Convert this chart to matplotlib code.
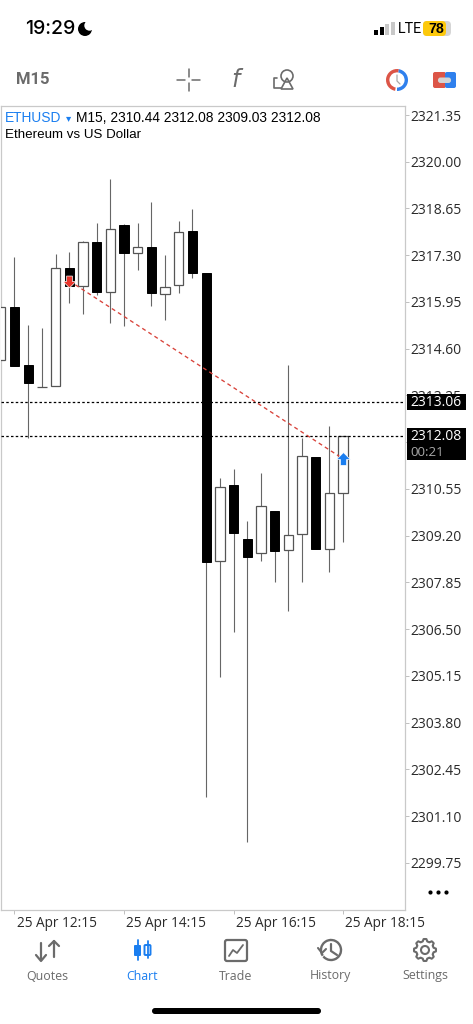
import matplotlib
matplotlib.use('Agg')
import matplotlib.pyplot as plt
import matplotlib.patches as mpatches
import numpy as np

# candles, oldest first
opens = [2314.28, 2315.81, 2314.13, 2313.50, 2313.52, 2316.93, 2316.41, 2317.68, 2316.24, 2318.17, 2317.37, 2317.54, 2316.18,
         2316.44, 2318.00, 2316.79, 2308.47, 2310.67, 2309.11, 2308.70, 2309.92, 2308.79, 2309.25, 2311.47, 2308.82, 2310.44]
highs = [2315.81, 2317.25, 2315.29, 2315.20, 2317.34, 2317.39, 2317.71, 2318.23, 2319.50, 2318.20, 2318.23, 2318.84, 2317.31,
         2318.29, 2318.64, 2316.79, 2310.87, 2311.13, 2309.63, 2311.01, 2309.92, 2314.13, 2312.02, 2311.47, 2312.37, 2312.08]
lows = [2314.28, 2314.10, 2312.02, 2313.50, 2313.52, 2315.92, 2315.60, 2316.15, 2315.34, 2315.26, 2316.87, 2315.83, 2315.43,
        2316.21, 2316.64, 2301.66, 2305.12, 2306.42, 2300.36, 2308.47, 2307.87, 2307.03, 2307.87, 2308.82, 2308.15, 2309.03]
closes = [2315.81, 2314.10, 2313.61, 2313.50, 2316.93, 2316.41, 2317.68, 2316.24, 2318.06, 2317.37, 2317.54, 2316.21, 2316.38,
          2317.97, 2316.79, 2308.44, 2310.61, 2309.28, 2308.59, 2310.06, 2308.76, 2309.22, 2311.50, 2308.82, 2310.43, 2312.08]

price_ticks = [2321.35, 2320.00, 2318.65, 2317.30, 2315.95, 2314.60, 2313.25, 2311.90, 2310.55, 2309.20,
               2307.85, 2306.50, 2305.15, 2303.80, 2302.45, 2301.10, 2299.75]
hidden_tick = 2311.90  # sits behind the last price box
time_idx = [1, 9, 17, 25]
time_labels = ['25 Apr 12:15', '25 Apr 14:15', '25 Apr 16:15', '25 Apr 18:15']

bid_price = 2313.06
last_price = 2312.08
trade_from = (5, 2316.56)
trade_to = (25, 2311.42)

W, H = 473, 1024
FONT = 'Liberation Sans'
GREY = '#6b6b6b'
BLUE = '#1a7ef0'
plt.rcParams['font.family'] = [FONT, 'DejaVu Sans']

fig = plt.figure(figsize=(W / 100, H / 100), dpi=100, facecolor='white')

# chart
ax = fig.add_axes([0.5 / W, (H - 910) / H, 404.5 / W, 804 / H])
ax.set_xlim(-0.022, 29.52)
ax.set_ylim(2298.39, 2321.61)

for s in ax.spines.values():
    s.set_color('#c9c9c9')
    s.set_linewidth(0.9)

x = np.arange(len(opens))
o, h, l, c = map(np.array, (opens, highs, lows, closes))
ax.vlines(x, l, h, color='#666666', lw=0.8, zorder=2)
up = c >= o
bw = 0.68
ax.bar(x[up], (c - o)[up], bottom=o[up], width=bw, facecolor='white', edgecolor='#555555', lw=0.9, zorder=3)
ax.bar(x[~up], (c - o)[~up], bottom=o[~up], width=bw, facecolor='black', edgecolor='black', lw=0.7, zorder=3)

for p in (bid_price, last_price):
    ax.axhline(p, color='black', lw=0.9, dashes=(2, 1.8), zorder=4)

ax.plot([trade_from[0], trade_to[0]], [trade_from[1], trade_to[1]], color='#d8423a', lw=0.95, dashes=(3, 2.5), zorder=5)
arrow_up = [(-1, 0), (0, 1), (1, 0), (.45, 0), (.45, -.85), (-.45, -.85), (-.45, 0), (-1, 0)]
arrow_dn = [(a, -b) for a, b in arrow_up]
ax.scatter([trade_from[0]], [trade_from[1]], marker=arrow_dn, s=85, color='#e8352b', edgecolor='white', lw=0.5, zorder=6)
ax.scatter([trade_to[0]], [trade_to[1]], marker=arrow_up, s=100, color=BLUE, edgecolor='white', lw=0.5, zorder=6)

ax.yaxis.tick_right()
ax.set_yticks(price_ticks)
ax.set_yticklabels(['' if p == hidden_tick else '%.2f' % p for p in price_ticks],
                   fontsize=10, color='#2a2a2a', fontfamily='Open Sans')
ax.set_xticks(time_idx)
ax.set_xticklabels(time_labels, fontsize=9.8, color='#2a2a2a', ha='left', fontfamily='Open Sans')
ax.tick_params(axis='y', length=3, width=0.7, color='#c0c0c0', pad=0.6)
ax.tick_params(axis='x', length=3, width=0.7, color='#c0c0c0', pad=1.2)
for t in ax.get_xticklabels():
    t.set_transform(t.get_transform() + matplotlib.transforms.ScaledTranslation(1.5 / 72, 0, fig.dpi_scale_trans))

# overlay in pixel coordinates for the phone interface
ui = fig.add_axes([0, 0, 1, 1], zorder=10)
ui.set_xlim(0, W)
ui.set_ylim(H, 0)
ui.axis('off')
ui.patch.set_alpha(0)


def txt(px, py, s, size, color='black', ha='left', weight='normal', **kw):
    ui.text(px, py, s, fontsize=size, color=color, ha=ha, va='center', fontweight=weight, **kw)


def rbox(px, py, w, hh, r, **kw):
    ui.add_patch(mpatches.FancyBboxPatch((px + r, py + r), w - 2 * r, hh - 2 * r,
                                         boxstyle='round,pad=%f,rounding_size=%f' % (r, r), lw=kw.pop('lw', 0), **kw))


def line(xs, ys, color=GREY, lw=1.3, **kw):
    ui.plot(xs, ys, color=color, lw=lw, solid_capstyle='round', **kw)


# status bar
txt(25, 29, '19:29', 14, weight='medium', fontfamily='Inter')
ui.add_patch(mpatches.Circle((85, 29), 7, color='black', lw=0))
ui.add_patch(mpatches.Circle((89.5, 25.5), 5.2, color='white', lw=0))
for bx, bh, col in zip([373.5, 379.5, 385, 391], [5, 8, 11, 13], ['black', 'black', '#c8c8c8', '#c8c8c8']):
    ui.add_patch(mpatches.Rectangle((bx, 35 - bh), 4.2, bh, color=col, lw=0))
txt(398, 29, 'LTE', 10.4, fontfamily='Roboto')
rbox(423, 21, 28, 15, 4, facecolor='#d5d5d5')
rbox(423, 21, 23, 15, 4, facecolor='#fdc90c')
txt(436, 28.7, '78', 10.2, ha='center', weight='bold')

# tool bar
txt(15.5, 80, 'M15', 12, color=GREY, weight='bold', fontfamily='Roboto')
line([177, 185], [80, 80], lw=1.1)
line([192, 200], [80, 80], lw=1.1)
line([188.5, 188.5], [69, 77], lw=1.1)
line([188.5, 188.5], [83, 91], lw=1.1)
txt(236, 80, 'f', 17, color=GREY, ha='center', style='italic', fontfamily='DejaVu Sans')
line([277, 274, 274, 281], [78, 78, 88, 88], lw=1.2)
ui.add_patch(mpatches.Circle((287, 76), 6, fill=False, ec=GREY, lw=1.2))
ui.add_patch(mpatches.Polygon([[287, 78], [281, 89], [293, 89]], fill=False, ec=GREY, lw=1.2))
ui.add_patch(mpatches.Wedge((397, 80), 11, 100, 280, width=3.4, color='#dc5547', lw=0))
ui.add_patch(mpatches.Wedge((397, 80), 11, -80, 90, width=3.4, color='#2f80ed', lw=0))
line([397, 397, 400], [75, 81, 84], color='#a9a9a9', lw=0.9)
rbox(433, 72, 13, 16, 2, facecolor='#dc5547')
rbox(445, 72, 11, 16, 2, facecolor='#2f80ed')
rbox(438, 77.5, 13, 5.5, 2.5, facecolor='#d5d5d5')

# chart header
txt(5, 118, 'ETHUSD', 9.9, color=BLUE)
txt(65.5, 118.5, '▾', 7.5, color=BLUE, fontfamily='DejaVu Sans')
txt(76, 118, 'M15, 2310.44 2312.08 2309.03 2312.08', 9.9)
txt(5, 135, 'Ethereum vs US Dollar', 9.6)

# price boxes
ui.add_patch(mpatches.Rectangle((407, 394), 59, 16, color='black', lw=0))
txt(410, 402, '%.2f' % bid_price, 10, color='white', fontfamily='Open Sans')
ui.add_patch(mpatches.Rectangle((407, 428), 59, 32, color='black', lw=0))
txt(410, 436, '%.2f' % last_price, 10, color='white', fontfamily='Open Sans')
txt(410, 452, '00:21', 9.6, color='#a8a8a8', fontfamily='Open Sans')

# more button
ui.scatter([430, 438, 446], [892, 892, 892], s=9, color='black', lw=0)

# tab bar
tab_x = [47, 142, 236, 330, 425]
tab_names = ['Quotes', 'Chart', 'Trade', 'History', 'Settings']
for tx, name in zip(tab_x, tab_names):
    txt(tx, 976, name, 8.9, color=BLUE if name == 'Chart' else GREY, ha='center', fontfamily='Open Sans')

# quotes arrows
line([41, 41], [943, 960], lw=1.6)
line([36, 41, 46], [955, 961, 955], lw=1.6)
line([54, 54], [941, 957], lw=1.6)
line([49, 54, 59], [946, 941, 946], lw=1.6)
# chart candles
line([137.5, 137.5], [940, 960], color=BLUE, lw=1.3)
line([147.5, 147.5], [941, 958], color=BLUE, lw=1.3)
rbox(134, 945, 7, 11, 1, facecolor=BLUE)
rbox(144.5, 945, 6, 10, 1, facecolor='white', edgecolor=BLUE, lw=1.4)
# trade box
rbox(225, 940, 22, 21, 2, facecolor='none', edgecolor=GREY, lw=1.6)
line([229, 233, 237, 243], [956, 950, 953, 945], lw=1.3)
# history clock
arc = mpatches.Arc((331, 950), 20, 20, angle=0, theta1=-215, theta2=140, color=GREY, lw=1.7)
ui.add_patch(arc)
line([331, 331, 337], [944, 951, 955], lw=1.6)
line([318, 322, 326], [948, 953, 949], lw=1.5)
# settings gear
ang = np.linspace(0, 2 * np.pi, 49)
rad = 11 - 2.2 * (np.cos(8 * ang) < 0)
ui.add_patch(mpatches.Polygon(np.c_[425 + rad * np.cos(ang), 950 + rad * np.sin(ang)], fill=False, ec=GREY, lw=1.5, joinstyle='round'))
ui.add_patch(mpatches.Circle((425, 950), 4, fill=False, ec=GREY, lw=1.5))

# home indicator
rbox(152, 1008, 169, 6, 3, facecolor='black')

fig.savefig('out.png', dpi=100, facecolor='white')
